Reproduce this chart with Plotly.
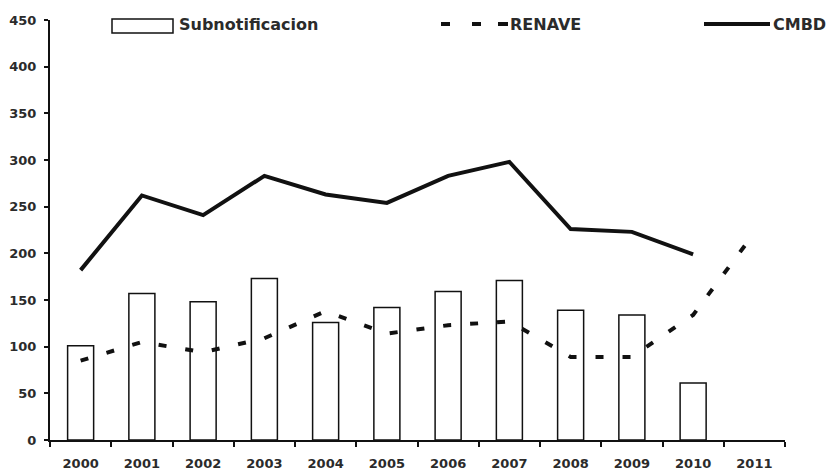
import plotly.graph_objects as go

# Data
years = [str(y) for y in range(2000, 2012)]
subnotificacion = [101, 157, 148, 173, 126, 142, 159, 171, 139, 134, 61, None]
renave = [85, 105, 94, 109, 138, 114, 123, 127, 89, 89, 134, 222]
cmbd = [182, 262, 241, 283, 263, 254, 283, 298, 226, 223, 199, None]
y_ticks = list(range(0, 451, 50))

# Plot area in pixels
W, H = 828, 470
L, R, T, B = 50, 43, 20, 30
PW, PH = W - L - R, H - T - B

TEXT = "#2b2b2b"
INK = "#111111"
FONT = "DejaVu Sans"


def px(x):
    return (x - L) / PW


def py(y):
    return (T + PH - y) / PH


fig = go.Figure()

fig.add_trace(go.Bar(
    x=years, y=subnotificacion, name="Subnotificacion",
    marker=dict(color="white", line=dict(color=INK, width=1.5)),
    showlegend=False,
))
fig.add_trace(go.Scatter(
    x=years, y=renave, name="RENAVE", mode="lines",
    line=dict(color=INK, width=4, dash="8px,19px"),
    showlegend=False,
))
fig.add_trace(go.Scatter(
    x=years, y=cmbd, name="CMBD", mode="lines",
    line=dict(color=INK, width=4),
    showlegend=False, connectgaps=False,
))

# Legend drawn along the top edge
shapes = [
    dict(type="rect", xref="paper", yref="paper",
         x0=px(112), x1=px(173), y0=py(33), y1=py(19),
         line=dict(color=INK, width=1.5), fillcolor="white"),
    dict(type="line", xref="paper", yref="paper",
         x0=px(704), x1=px(770), y0=py(24), y1=py(24),
         line=dict(color=INK, width=4)),
]
for a, b in [(441, 450), (472, 481), (498, 508)]:
    shapes.append(dict(type="line", xref="paper", yref="paper",
                       x0=px(a), x1=px(b), y0=py(24), y1=py(24),
                       line=dict(color=INK, width=4)))

annotations = [
    dict(text=t, x=px(x0), y=py(25), xref="paper", yref="paper",
         xanchor="left", yanchor="middle", showarrow=False,
         font=dict(family=FONT, size=16, color=TEXT, weight="bold"))
    for t, x0 in [("Subnotificacion", 177), ("RENAVE", 508), ("CMBD", 771)]
]

fig.update_layout(
    width=W, height=H,
    margin=dict(l=L, r=R, t=T, b=B, pad=0, autoexpand=False),
    paper_bgcolor="white", plot_bgcolor="white",
    bargap=0.575,
    shapes=shapes, annotations=annotations,
    font=dict(family=FONT, size=13, color=TEXT, weight="bold"),
    xaxis=dict(
        type="category", range=[-0.5, 11.5], automargin=False,
        showline=True, linecolor=INK, linewidth=2,
        ticks="outside", tickson="boundaries", ticklen=5, tickwidth=1.5,
        tickcolor=INK, showgrid=False, ticklabelstandoff=10,
        tickfont=dict(family=FONT, size=13, color=TEXT, weight="bold"),
    ),
    yaxis=dict(
        range=[0, 450], tickvals=y_ticks, automargin=False,
        showline=True, linecolor=INK, linewidth=2,
        ticks="outside", ticklen=4, tickwidth=1.5, tickcolor=INK,
        showgrid=False, zeroline=False, ticklabelstandoff=5,
        tickfont=dict(family=FONT, size=13, color=TEXT, weight="bold"),
    ),
)

fig.write_html("out.html")
